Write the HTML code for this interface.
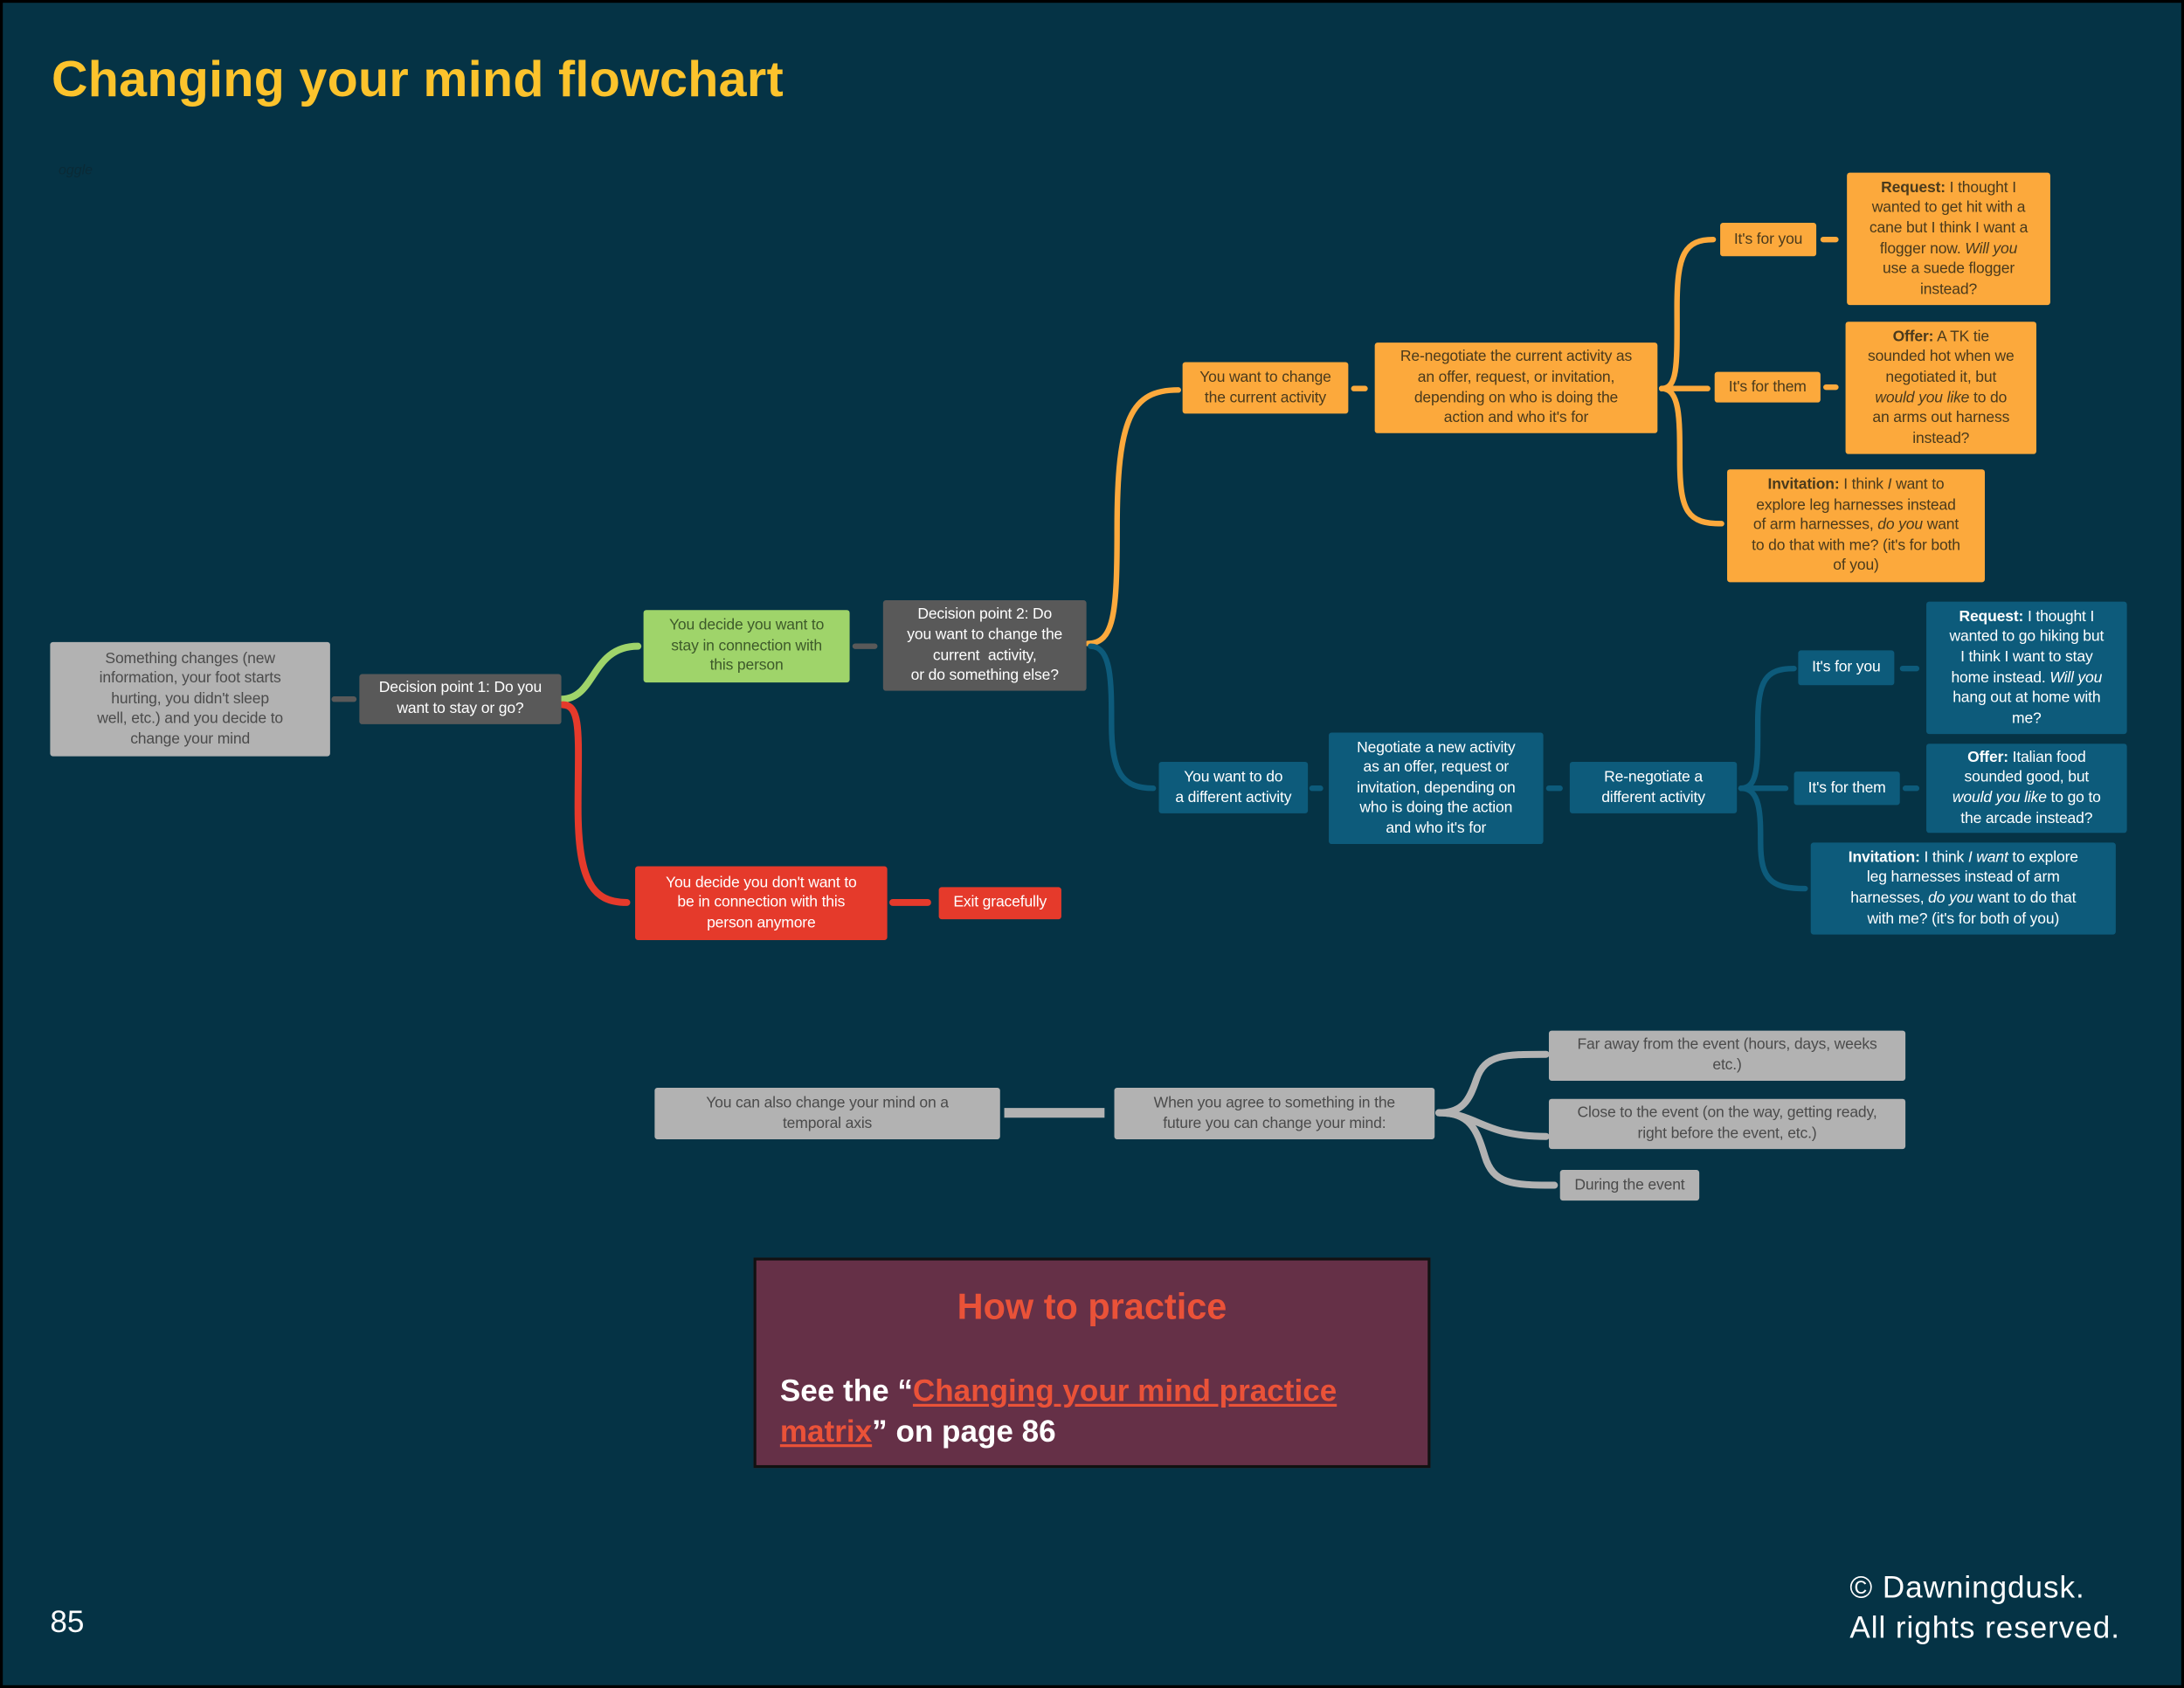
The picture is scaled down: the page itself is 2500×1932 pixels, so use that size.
<!DOCTYPE html>
<html><head><meta charset="utf-8">
<style>
html,body{margin:0;padding:0;}
body{width:2500px;height:1932px;overflow:hidden;background:#000;}
#page{position:absolute;left:0;top:0;width:1568px;height:1212px;transform:scale(1.59439,1.59406);transform-origin:0 0;background:#053345;font-family:"Liberation Sans",sans-serif;}
#frame{position:absolute;left:0;top:0;width:1568px;height:1212px;box-sizing:border-box;border:2px solid #000;}
.b{position:absolute;display:flex;align-items:center;justify-content:center;text-align:center;font-size:11px;line-height:14.6px;border-radius:2px;box-sizing:border-box;padding:0 4px;letter-spacing:-0.1px;}
.g{background:#b2b2b2;color:#4b4b4b;}
.dg{background:#595959;color:#fff;}
.gr{background:#9fd46a;color:#3d5a2a;}
.r{background:#e53a2b;color:#fff;}
.o{background:#fca93c;color:#4a3a1c;}
.bl{background:#0d5b7b;color:#fff;}
svg{position:absolute;left:0;top:0;}
</style></head><body>
<div id="page">
<svg width="1568" height="1212" viewBox="0 0 1568 1212" fill="none" stroke-linecap="round">
<path d="M240,502 L254,502" stroke="#595959" stroke-width="4"/>
<path d="M614,464 L628,464" stroke="#595959" stroke-width="4"/>
<path d="M403,502 C428,502 424,464 458,464" stroke="#9fd46a" stroke-width="5"/>
<path d="M404,506 C418,506 415,530 415,580 C415,632 425,648 450,648" stroke="#e53a2b" stroke-width="5"/>
<path d="M641,648 L666,648" stroke="#e53a2b" stroke-width="5"/>
<path d="M781,462 C800,462 802,440 802,380 C802,300 812,280 846,280" stroke="#fca93c" stroke-width="4"/>
<path d="M783,464 C798,464 798,490 798,520 C798,555 806,566 828,566" stroke="#0d5b7b" stroke-width="4"/>
<path d="M972,279 L980,279" stroke="#fca93c" stroke-width="4"/>
<path d="M1193,279 C1205,279 1204,260 1204,220 C1204,182 1210,172 1230,172" stroke="#fca93c" stroke-width="4"/>
<path d="M1193,279 L1226,279" stroke="#fca93c" stroke-width="4"/>
<path d="M1193,279 C1206,279 1206,300 1206,330 C1206,368 1212,376 1236,376" stroke="#fca93c" stroke-width="4"/>
<path d="M1309,172 L1318,172" stroke="#fca93c" stroke-width="4"/>
<path d="M1311,278 L1318,278" stroke="#fca93c" stroke-width="4"/>
<path d="M942,566 L948,566" stroke="#0d5b7b" stroke-width="4"/>
<path d="M1112,566 L1120,566" stroke="#0d5b7b" stroke-width="4"/>
<path d="M1250,566 C1262,566 1262,550 1262,520 C1262,488 1268,480 1288,480" stroke="#0d5b7b" stroke-width="4"/>
<path d="M1250,566 L1282,566" stroke="#0d5b7b" stroke-width="4"/>
<path d="M1250,566 C1264,566 1264,585 1264,605 C1264,632 1272,638 1296,638" stroke="#0d5b7b" stroke-width="4"/>
<path d="M1366,480 L1376,480" stroke="#0d5b7b" stroke-width="4"/>
<path d="M1368,566 L1376,566" stroke="#0d5b7b" stroke-width="4"/>
<path d="M721,799 L793,799" stroke="#b2b2b2" stroke-width="7" stroke-linecap="butt"/>
<path d="M1033,799 C1050,799 1055,790 1060,775 C1066,757 1080,757 1110,757" stroke="#b2b2b2" stroke-width="5"/>
<path d="M1033,799 C1060,799 1065,816 1110,816" stroke="#b2b2b2" stroke-width="5"/>
<path d="M1033,799 C1055,799 1060,810 1066,830 C1072,850 1085,851 1116,851" stroke="#b2b2b2" stroke-width="5"/>
</svg>

<div style="position:absolute;left:37px;top:36px;font-size:36px;font-weight:bold;color:#fcc32c;letter-spacing:0.2px;">Changing your mind flowchart</div>
<div style="position:absolute;left:42px;top:117px;font-size:10px;color:#0a2a36;font-style:italic;">oggle</div>

<div class="b g" style="left:36px;top:461px;width:201px;height:82px;">Something changes (new<br>information, your foot starts<br>hurting, you didn't sleep<br>well, etc.) and you decide to<br>change your mind</div>
<div class="b dg" style="left:258px;top:484px;width:145px;height:36px;">Decision point 1: Do you<br>want to stay or go?</div>
<div class="b gr" style="left:462px;top:438px;width:148px;height:52px;">You decide you want to<br>stay in connection with<br>this person</div>
<div class="b dg" style="left:634px;top:431px;width:146px;height:65px;">Decision point 2: Do<br>you want to change the<br>current &nbsp;activity,<br>or do something else?</div>
<div class="b r" style="left:456px;top:622px;width:181px;height:53px;">You decide you don't want to<br>be in connection with this<br>person anymore</div>
<div class="b r" style="left:674px;top:637px;width:88px;height:23px;">Exit gracefully</div>

<div class="b o" style="left:849px;top:260px;width:119px;height:37px;">You want to change<br>the current activity</div>
<div class="b o" style="left:987px;top:246px;width:203px;height:65px;">Re-negotiate the current activity as<br>an offer, request, or invitation,<br>depending on who is doing the<br>action and who it's for</div>
<div class="b o" style="left:1235px;top:160px;width:69px;height:24px;">It's for you</div>
<div class="b o" style="left:1326px;top:124px;width:146px;height:95px;"><span><b>Request:</b> I thought I<br>wanted to get hit with a<br>cane but I think I want a<br>flogger now. <i>Will you</i><br>use a suede flogger<br>instead?</span></div>
<div class="b o" style="left:1231px;top:267px;width:76px;height:22px;">It's for them</div>
<div class="b o" style="left:1325px;top:231px;width:137px;height:95px;"><span><b>Offer:</b> A TK tie<br>sounded hot when we<br>negotiated it, but<br><i>would you like</i> to do<br>an arms out harness<br>instead?</span></div>
<div class="b o" style="left:1240px;top:337px;width:185px;height:81px;"><span><b>Invitation:</b> I think <i>I</i> want to<br>explore leg harnesses instead<br>of arm harnesses, <i>do you</i> want<br>to do that with me? (it's for both<br>of you)</span></div>

<div class="b bl" style="left:832px;top:547px;width:107px;height:37px;">You want to do<br>a different activity</div>
<div class="b bl" style="left:954px;top:526px;width:154px;height:80px;">Negotiate a new activity<br>as an offer, request or<br>invitation, depending on<br>who is doing the action<br>and who it's for</div>
<div class="b bl" style="left:1127px;top:547px;width:120px;height:37px;">Re-negotiate a<br>different activity</div>
<div class="b bl" style="left:1291px;top:467px;width:69px;height:25px;">It's for you</div>
<div class="b bl" style="left:1383px;top:432px;width:144px;height:95px;"><span><b>Request:</b> I thought I<br>wanted to go hiking but<br>I think I want to stay<br>home instead. <i>Will you</i><br>hang out at home with<br>me?</span></div>
<div class="b bl" style="left:1288px;top:554px;width:76px;height:24px;">It's for them</div>
<div class="b bl" style="left:1383px;top:534px;width:144px;height:64px;"><span><b>Offer:</b> Italian food<br>sounded good, but<br><i>would you like</i> to go to<br>the arcade instead?</span></div>
<div class="b bl" style="left:1300px;top:605px;width:219px;height:66px;"><span><b>Invitation:</b> I think <i>I want</i> to explore<br>leg harnesses instead of arm<br>harnesses, <i>do you</i> want to do that<br>with me? (it's for both of you)</span></div>

<div class="b g" style="left:470px;top:781px;width:248px;height:37px;">You can also change your mind on a<br>temporal axis</div>
<div class="b g" style="left:800px;top:781px;width:230px;height:37px;">When you agree to something in the<br>future you can change your mind:</div>
<div class="b g" style="left:1112px;top:740px;width:256px;height:36px;">Far away from the event (hours, days, weeks<br>etc.)</div>
<div class="b g" style="left:1112px;top:789px;width:256px;height:36px;">Close to the event (on the way, getting ready,<br>right before the event, etc.)</div>
<div class="b g" style="left:1120px;top:840px;width:100px;height:22px;">During the event</div>

<div style="position:absolute;left:541px;top:903px;width:486px;height:151px;background:#653047;border:2px solid #111;box-sizing:border-box;">
<div style="position:absolute;left:0;width:100%;top:18px;text-align:center;font-size:26px;font-weight:bold;color:#ea5238;">How to practice</div>
<div style="position:absolute;left:17px;top:79px;width:450px;font-size:22px;line-height:29px;font-weight:bold;color:#fff;">See the “<span style="color:#ea5238;text-decoration:underline;">Changing your mind practice matrix</span>” on page 86</div>
</div>

<div style="position:absolute;left:36px;top:1152px;font-size:22px;color:#fff;">85</div>
<div style="position:absolute;left:1328px;top:1125px;font-size:22px;line-height:29px;color:#fff;letter-spacing:0.6px;">© Dawningdusk.<br>All rights reserved.</div>
<div id="frame"></div>
</div>
</body></html>
